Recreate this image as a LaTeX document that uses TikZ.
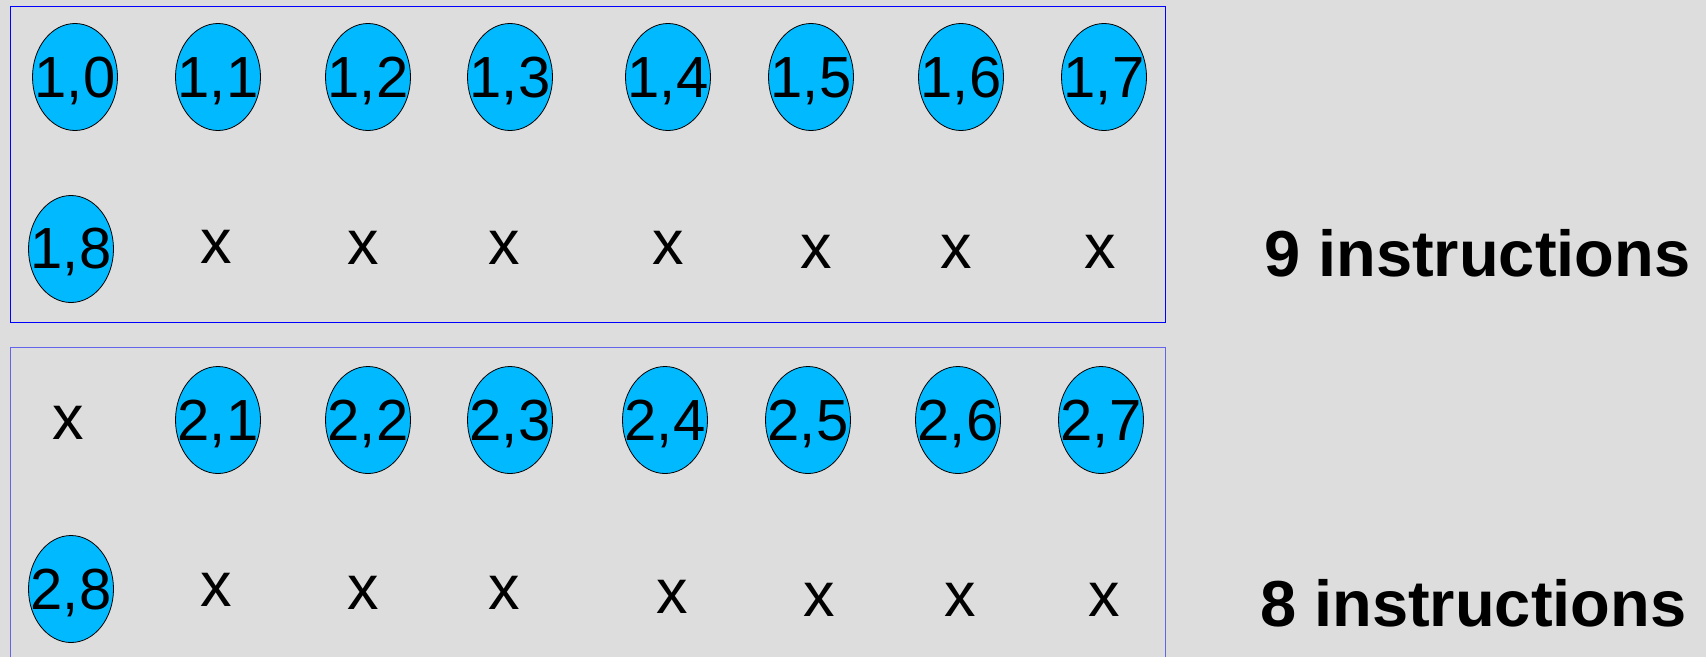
\documentclass[tikz,border=0pt]{standalone}
\usepackage{fontspec}
\setmainfont{Liberation Sans}
\usetikzlibrary{shapes.geometric}
\definecolor{bg}{RGB}{221,221,221}
\definecolor{cellblue}{RGB}{0,185,255}
\definecolor{boxblue}{RGB}{0,0,255}
\definecolor{boxblueb}{RGB}{100,100,235}
\begin{document}
\begin{tikzpicture}[x=1pt,y=-1pt,
  cell/.style={ellipse, draw=black, line width=0.8pt, fill=cellblue,
    minimum width=85pt, minimum height=107pt, inner sep=0pt},
  lbl/.style={font=\fontsize{58}{60}\selectfont, anchor=base, inner sep=0pt},
  gap/.style={font=\fontsize{63}{65}\selectfont, anchor=base, inner sep=0pt},
  count/.style={font=\fontsize{65}{70}\selectfont\bfseries, anchor=base west, inner sep=0pt},
  frame/.style={line width=1pt}]
\fill[bg] (0,0) rectangle (1706,657);
\useasboundingbox (0,0) rectangle (1706,657);
% frames
\draw[frame, boxblue] (10,6.5) rectangle (1165,322);
\draw[frame, boxblueb] (10,657) -- (10,347) -- (1165,347) -- (1165,657);
% row A
\foreach \i/\x in {0/75,1/218,2/368,3/510,4/668,5/811,6/961,7/1104}{
  \node[cell] (a\i) at (\x,77) {};
  \node[lbl] (ta\i) at (\x,97) {1,\i};
}
% row B
\node[cell] (b8) at (71,249) {};
\node[lbl] (tb8) at (71,268) {1,8};
\foreach \k/\x/\y in {1/216/263,2/363/264,3/504/264,4/668/264,5/816/268,6/956/268,7/1100/268}{
  \node[gap] (xb\k) at (\x,\y) {x};
}
% row C
\node[gap] (xc0) at (68,439) {x};
\foreach \i/\x in {1/218,2/368,3/510,4/665,5/808,6/958,7/1101}{
  \node[cell] (c\i) at (\x,420) {};
  \node[lbl] (tc\i) at (\x,440) {2,\i};
}
% row D
\node[cell] (d8) at (71,589) {};
\node[lbl] (td8) at (71,609) {2,8};
\foreach \k/\x/\y in {1/216/606,2/363/609,3/504/609,4/672/613,5/819/616,6/960/616,7/1104/616}{
  \node[gap] (xd\k) at (\x,\y) {x};
}
% counts
\node[count] (n9) at (1264,276) {9 instructions};
\node[count] (n8) at (1260,626) {8 instructions};
\end{tikzpicture}
\end{document}
